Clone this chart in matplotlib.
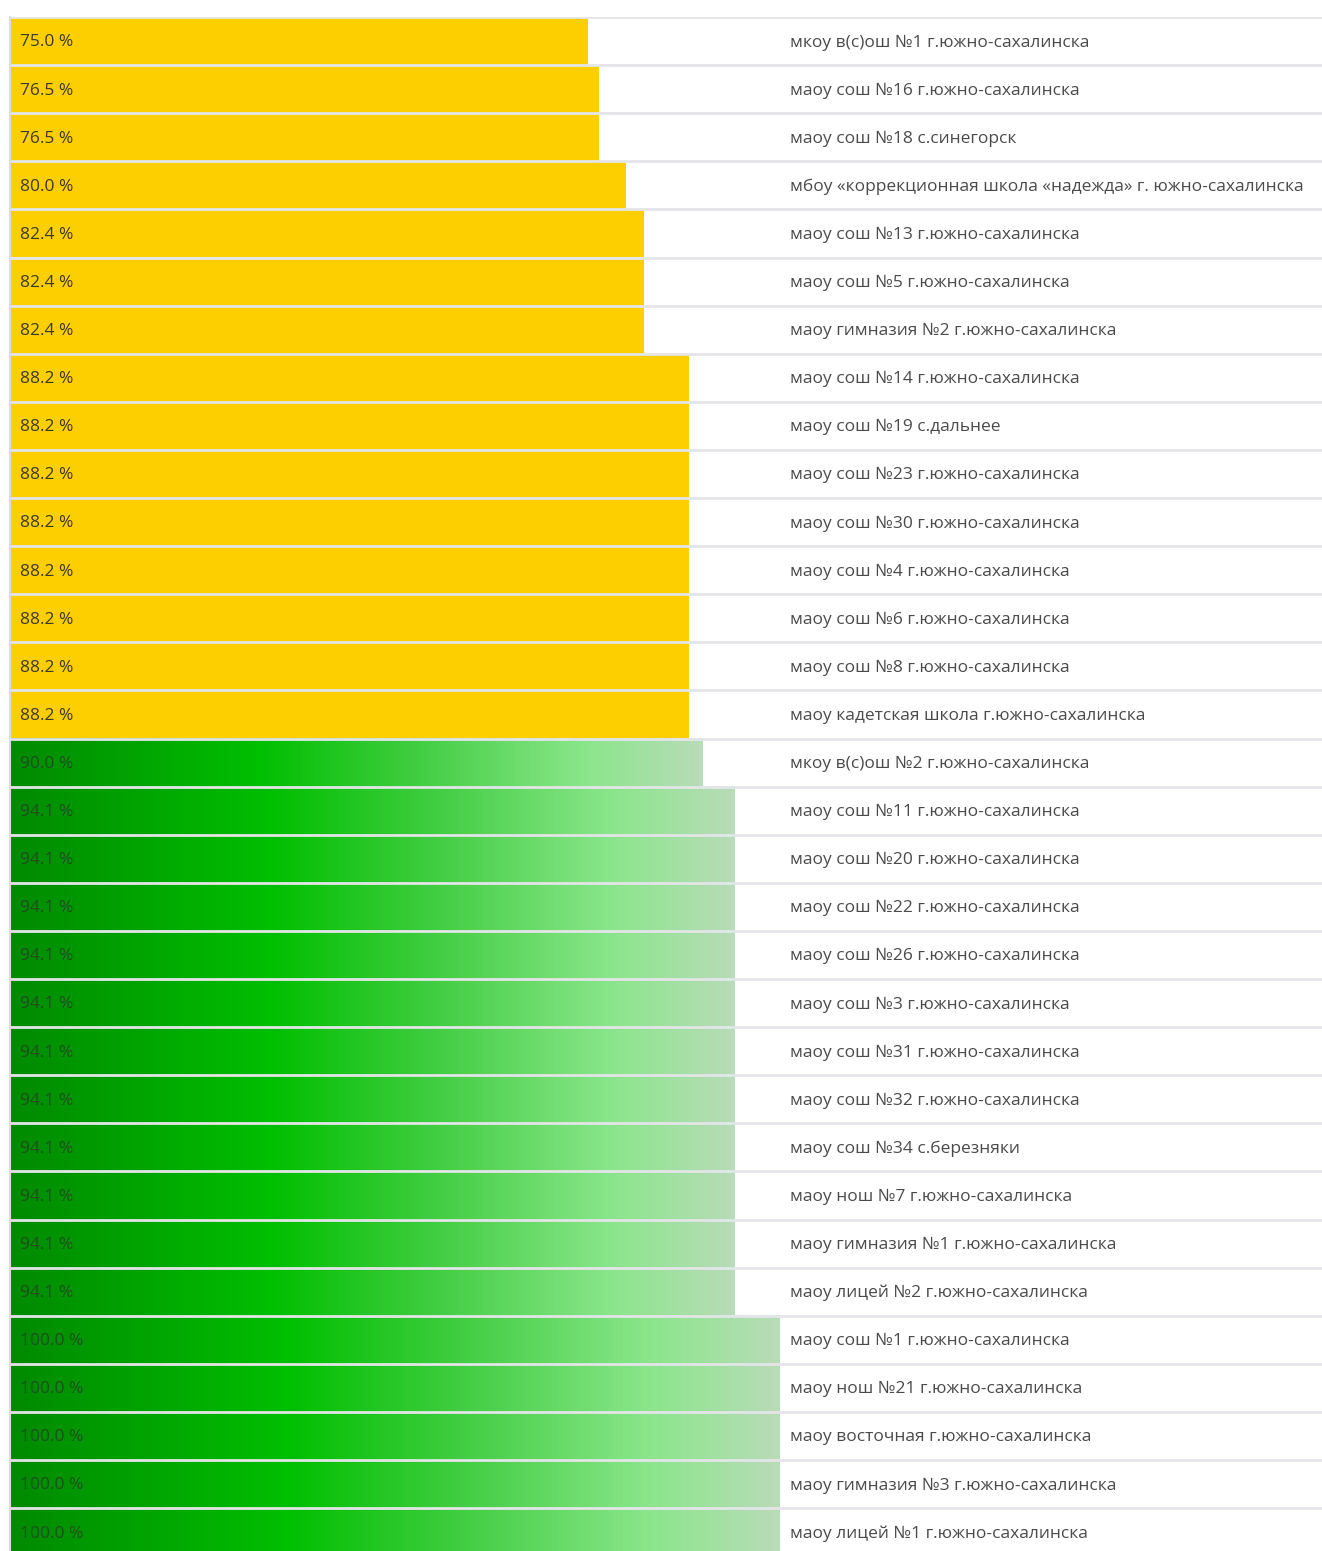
import numpy as np
import matplotlib
matplotlib.use("Agg")
import matplotlib.pyplot as plt
from matplotlib.colors import LinearSegmentedColormap

schools = [
    "мкоу в(с)ош №1 г.южно-сахалинска",
    "маоу сош №16 г.южно-сахалинска",
    "маоу сош №18 с.синегорск",
    "мбоу «коррекционная школа «надежда» г. южно-сахалинска",
    "маоу сош №13 г.южно-сахалинска",
    "маоу сош №5 г.южно-сахалинска",
    "маоу гимназия №2 г.южно-сахалинска",
    "маоу сош №14 г.южно-сахалинска",
    "маоу сош №19 с.дальнее",
    "маоу сош №23 г.южно-сахалинска",
    "маоу сош №30 г.южно-сахалинска",
    "маоу сош №4 г.южно-сахалинска",
    "маоу сош №6 г.южно-сахалинска",
    "маоу сош №8 г.южно-сахалинска",
    "маоу кадетская школа г.южно-сахалинска",
    "мкоу в(с)ош №2 г.южно-сахалинска",
    "маоу сош №11 г.южно-сахалинска",
    "маоу сош №20 г.южно-сахалинска",
    "маоу сош №22 г.южно-сахалинска",
    "маоу сош №26 г.южно-сахалинска",
    "маоу сош №3 г.южно-сахалинска",
    "маоу сош №31 г.южно-сахалинска",
    "маоу сош №32 г.южно-сахалинска",
    "маоу сош №34 с.березняки",
    "маоу нош №7 г.южно-сахалинска",
    "маоу гимназия №1 г.южно-сахалинска",
    "маоу лицей №2 г.южно-сахалинска",
    "маоу сош №1 г.южно-сахалинска",
    "маоу нош №21 г.южно-сахалинска",
    "маоу восточная г.южно-сахалинска",
    "маоу гимназия №3 г.южно-сахалинска",
    "маоу лицей №1 г.южно-сахалинска",
]
values = [75.0, 76.5, 76.5, 80.0, 82.4, 82.4, 82.4, 88.2, 88.2, 88.2, 88.2, 88.2,
          88.2, 88.2, 88.2, 90.0, 94.1, 94.1, 94.1, 94.1, 94.1, 94.1, 94.1, 94.1,
          94.1, 94.1, 94.1, 100.0, 100.0, 100.0, 100.0, 100.0]
green_threshold = 90.0

plt.rcParams['font.family'] = ['Open Sans', 'DejaVu Sans']

W, H = 1322, 1551
fig = plt.figure(figsize=(W / 100, H / 100), dpi=100)
ax_left = 10 / W
ax_top = 1 - 17 / H
row_h = 48.1
n = len(values)
ax_h = n * row_h / H
ax = fig.add_axes([ax_left, ax_top - ax_h, 1 - ax_left, ax_h])

px_per_unit = 7.7
xmax = (W - 10) / px_per_unit
ax.set_xlim(0, xmax)
ax.set_ylim(n - 0.5, -0.5)

green_cmap = LinearSegmentedColormap.from_list(
    "g", [(0.0, "#008a00"), (0.36, "#00bf00"), (0.58, "#3fcd3f"),
          (0.83, "#8ae68a"), (1.0, "#b8dcb8")])
grad = np.linspace(0, 1, 256).reshape(1, -1)

for i, v in enumerate(values):
    if v >= green_threshold:
        ax.barh(i, v, height=1.0, color="none", edgecolor="none")
        ax.imshow(grad, cmap=green_cmap, aspect="auto",
                  extent=(0, v, i + 0.5, i - 0.5), zorder=1, interpolation="bilinear")
        tcol = "#1e4f1e"
    else:
        ax.barh(i, v, height=1.0, color="#fdcf00", edgecolor="none", zorder=1)
        tcol = "#3a3a2a"
    ax.text(10 / px_per_unit, i + 0.03, f"{v:.1f} %", va="center", ha="left",
            fontsize=12.5, color=tcol, zorder=4)

label_x = (790 - 10) / px_per_unit
for i, s in enumerate(schools):
    ax.text(label_x, i + 0.03, s, va="center", ha="left", fontsize=12.5,
            color="#4a4a4a", zorder=4)

ax.set_ylim(n - 0.5, -0.5)
ax.set_xlim(0, xmax)
for b in np.arange(-0.5, n, 1.0):
    ax.axhline(b, color="#e3e5e8", lw=2, zorder=3)

ax.set_xticks([])
ax.set_yticks([])
for sp in ["top", "right", "bottom"]:
    ax.spines[sp].set_visible(False)
ax.spines["left"].set_color("#dcdcdc")
ax.spines["left"].set_linewidth(1.5)
ax.spines["left"].set_zorder(5)

fig.savefig("out.png", dpi=100)
